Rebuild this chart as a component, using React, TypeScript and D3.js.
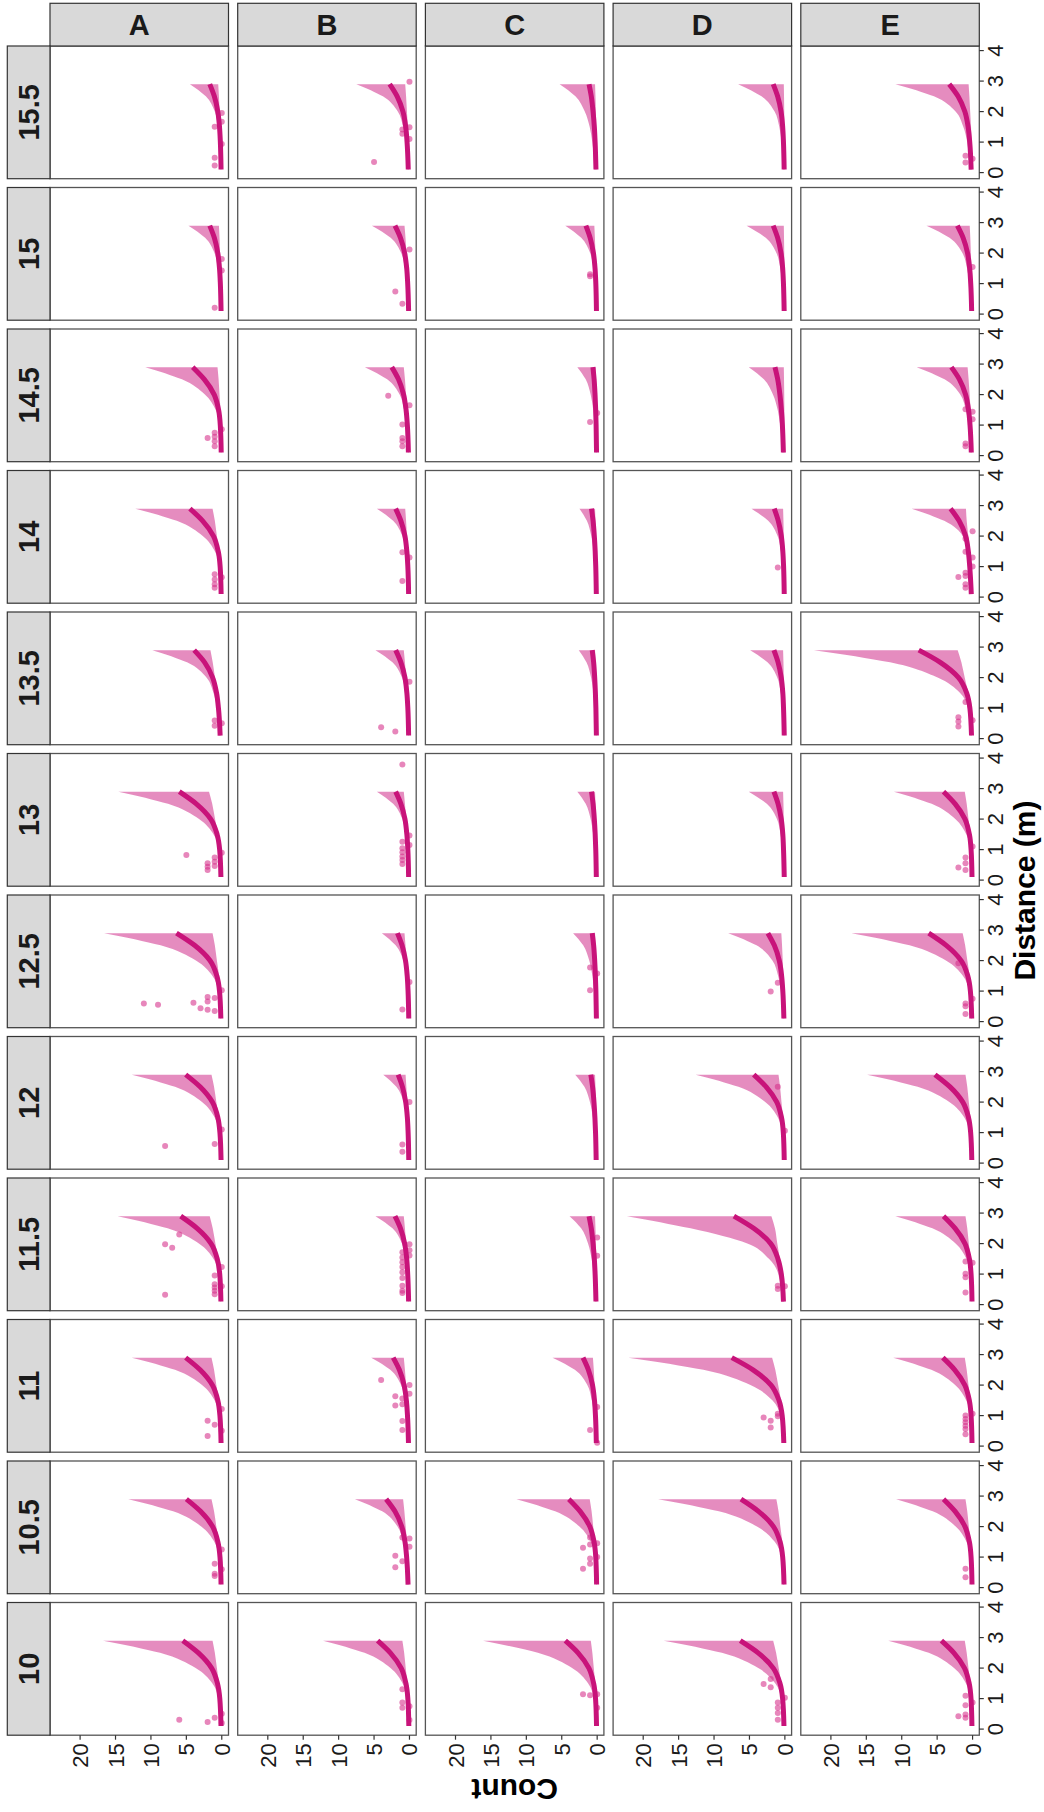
import React from "react";
import * as d3 from "d3";

// ---------- categories & ticks ----------
const letters = ["A", "B", "C", "D", "E"];
const sizes = ["10", "10.5", "11", "11.5", "12", "12.5", "13", "13.5", "14", "14.5", "15", "15.5"];
const knots = [0.1, 1.0, 1.5, 2.0, 2.5, 2.9];
const distTicks = [0, 1, 2, 3, 4];
const countTicks = [0, 5, 10, 15, 20];

// ---------- fitted curve / ribbon values at the knots, per size (10 .. 15.5) ----------
const fitA = [
  [0.11, 0.28, 0.61, 1.43, 3.3, 5.5], [0.1, 0.25, 0.55, 1.3, 3.0, 5.0], [0.1, 0.26, 0.56, 1.33, 3.06, 5.1],
  [0.12, 0.29, 0.64, 1.51, 3.48, 5.8], [0.1, 0.26, 0.56, 1.33, 3.06, 5.1], [0.13, 0.32, 0.7, 1.66, 3.84, 6.4],
  [0.12, 0.3, 0.66, 1.56, 3.6, 6.0], [0.23, 0.47, 0.74, 1.29, 2.42, 3.9], [0.09, 0.23, 0.5, 1.17, 2.7, 4.5],
  [0.08, 0.21, 0.45, 1.07, 2.46, 4.1], [0.1, 0.2, 0.32, 0.56, 1.05, 1.7], [0.1, 0.2, 0.32, 0.56, 1.05, 1.7],
];
const hiA = [
  [0.25, 0.5, 1.34, 3.69, 8.71, 16.75], [0.2, 0.4, 1.06, 2.9, 6.86, 13.2], [0.19, 0.38, 1.02, 2.79, 6.6, 12.7],
  [0.22, 0.44, 1.18, 3.23, 7.64, 14.7], [0.19, 0.38, 1.02, 2.79, 6.6, 12.7], [0.25, 0.5, 1.33, 3.65, 8.63, 16.6],
  [0.22, 0.44, 1.17, 3.21, 7.59, 14.6], [0.39, 0.69, 1.18, 2.16, 4.9, 9.8], [0.18, 0.37, 0.98, 2.68, 6.34, 12.2],
  [0.16, 0.32, 0.86, 2.38, 5.62, 10.8], [0.19, 0.33, 0.56, 1.03, 2.35, 4.7], [0.18, 0.32, 0.54, 0.99, 2.25, 4.5],
];
const loA = [
  [0.05, 0.22, 0.39, 0.69, 0.98, 1.3], [0.06, 0.25, 0.44, 0.77, 1.09, 1.45], [0.06, 0.25, 0.44, 0.77, 1.09, 1.45],
  [0.07, 0.29, 0.51, 0.9, 1.28, 1.7], [0.06, 0.25, 0.44, 0.77, 1.09, 1.45], [0.05, 0.22, 0.39, 0.69, 0.98, 1.3],
  [0.07, 0.31, 0.54, 0.95, 1.35, 1.8], [0.16, 0.4, 0.64, 0.96, 1.28, 1.6], [0.05, 0.22, 0.39, 0.69, 0.98, 1.3],
  [0.02, 0.1, 0.18, 0.32, 0.45, 0.6], [0.04, 0.1, 0.16, 0.24, 0.32, 0.4], [0.05, 0.13, 0.2, 0.3, 0.4, 0.5],
];

const fitB = [
  [0.09, 0.23, 0.5, 1.17, 2.7, 4.5], [0.2, 0.4, 0.63, 1.09, 2.05, 3.3], [0.14, 0.28, 0.44, 0.76, 1.43, 2.3],
  [0.12, 0.25, 0.39, 0.68, 1.27, 2.05], [0.1, 0.19, 0.3, 0.53, 0.99, 1.6], [0.1, 0.2, 0.32, 0.56, 1.05, 1.7],
  [0.12, 0.23, 0.37, 0.64, 1.21, 1.95], [0.12, 0.23, 0.37, 0.64, 1.21, 1.95], [0.12, 0.23, 0.37, 0.64, 1.21, 1.95],
  [0.15, 0.3, 0.48, 0.83, 1.55, 2.5], [0.12, 0.25, 0.39, 0.68, 1.27, 2.05], [0.17, 0.34, 0.53, 0.92, 1.74, 2.8],
];
const hiB = [
  [0.18, 0.37, 0.98, 2.68, 6.34, 12.2], [0.31, 0.54, 0.92, 1.69, 3.85, 7.7], [0.22, 0.38, 0.65, 1.19, 2.7, 5.4],
  [0.19, 0.34, 0.58, 1.06, 2.4, 4.8], [0.15, 0.26, 0.44, 0.81, 1.85, 3.7], [0.16, 0.27, 0.47, 0.86, 1.95, 3.9],
  [0.18, 0.32, 0.55, 1.01, 2.3, 4.6], [0.19, 0.34, 0.58, 1.06, 2.4, 4.8], [0.18, 0.32, 0.55, 1.01, 2.3, 4.6],
  [0.25, 0.44, 0.76, 1.39, 3.15, 6.3], [0.21, 0.37, 0.64, 1.17, 2.65, 5.3], [0.3, 0.53, 0.9, 1.65, 3.75, 7.5],
];
const loB = [
  [0.04, 0.17, 0.3, 0.53, 0.75, 1.0], [0.09, 0.23, 0.36, 0.54, 0.72, 0.9], [0.08, 0.2, 0.32, 0.48, 0.64, 0.8],
  [0.08, 0.2, 0.32, 0.48, 0.64, 0.8], [0.06, 0.14, 0.22, 0.33, 0.44, 0.55], [0.07, 0.18, 0.28, 0.42, 0.56, 0.7],
  [0.08, 0.2, 0.32, 0.48, 0.64, 0.8], [0.08, 0.2, 0.32, 0.48, 0.64, 0.8], [0.06, 0.15, 0.24, 0.36, 0.48, 0.6],
  [0.08, 0.2, 0.32, 0.48, 0.64, 0.8], [0.07, 0.18, 0.28, 0.42, 0.56, 0.7], [0.06, 0.15, 0.24, 0.36, 0.48, 0.6],
];

const fitC = [
  [0.09, 0.23, 0.5, 1.17, 2.7, 4.5], [0.08, 0.2, 0.44, 1.04, 2.4, 4.0], [0.12, 0.24, 0.38, 0.66, 1.24, 2.0],
  [0.17, 0.29, 0.4, 0.58, 0.83, 1.15], [0.14, 0.23, 0.32, 0.45, 0.65, 0.9], [0.11, 0.18, 0.25, 0.35, 0.5, 0.7],
  [0.12, 0.2, 0.28, 0.4, 0.58, 0.8], [0.11, 0.18, 0.25, 0.35, 0.5, 0.7], [0.12, 0.2, 0.28, 0.4, 0.58, 0.8],
  [0.09, 0.15, 0.21, 0.3, 0.43, 0.6], [0.1, 0.19, 0.3, 0.53, 0.99, 1.6], [0.17, 0.29, 0.4, 0.58, 0.83, 1.15],
];
const hiC = [
  [0.24, 0.48, 1.29, 3.54, 8.37, 16.1], [0.17, 0.34, 0.91, 2.51, 5.93, 11.4], [0.25, 0.44, 0.76, 1.39, 3.15, 6.3],
  [0.31, 0.51, 0.78, 1.29, 2.26, 3.9], [0.25, 0.4, 0.62, 1.02, 1.8, 3.1], [0.27, 0.44, 0.68, 1.12, 1.97, 3.4],
  [0.22, 0.36, 0.56, 0.92, 1.62, 2.8], [0.21, 0.34, 0.52, 0.86, 1.51, 2.6], [0.2, 0.33, 0.5, 0.83, 1.45, 2.5],
  [0.22, 0.36, 0.56, 0.92, 1.62, 2.8], [0.18, 0.32, 0.54, 0.99, 2.25, 4.5], [0.42, 0.69, 1.06, 1.75, 3.07, 5.3],
];
const loC = [
  [0.04, 0.15, 0.27, 0.48, 0.68, 0.9], [0.04, 0.18, 0.32, 0.56, 0.79, 1.05], [0.06, 0.15, 0.24, 0.36, 0.48, 0.6],
  [0.06, 0.1, 0.14, 0.18, 0.24, 0.3], [0.06, 0.1, 0.14, 0.18, 0.24, 0.3], [0.06, 0.1, 0.14, 0.18, 0.24, 0.3],
  [0.06, 0.1, 0.14, 0.18, 0.24, 0.3], [0.06, 0.1, 0.14, 0.18, 0.24, 0.3], [0.06, 0.1, 0.14, 0.18, 0.24, 0.3],
  [0.04, 0.07, 0.09, 0.12, 0.16, 0.2], [0.04, 0.1, 0.16, 0.24, 0.32, 0.4], [0.06, 0.1, 0.14, 0.18, 0.24, 0.3],
];

const fitD = [
  [0.13, 0.32, 0.69, 1.64, 3.78, 6.3], [0.12, 0.31, 0.68, 1.61, 3.72, 6.2], [0.15, 0.38, 0.83, 1.95, 4.5, 7.5],
  [0.2, 0.5, 0.98, 2.0, 4.4, 7.2], [0.09, 0.22, 0.48, 1.14, 2.64, 4.4], [0.14, 0.29, 0.46, 0.79, 1.49, 2.4],
  [0.09, 0.19, 0.29, 0.51, 0.96, 1.55], [0.09, 0.19, 0.29, 0.51, 0.96, 1.55], [0.09, 0.18, 0.29, 0.5, 0.93, 1.5],
  [0.21, 0.35, 0.49, 0.7, 1.01, 1.4], [0.1, 0.2, 0.31, 0.54, 1.02, 1.65], [0.1, 0.2, 0.31, 0.54, 1.02, 1.65],
];
const hiD = [
  [0.26, 0.51, 1.37, 3.76, 8.89, 17.1], [0.27, 0.54, 1.43, 3.94, 9.31, 17.9], [0.33, 0.66, 1.77, 4.86, 11.49, 22.1],
  [0.4, 0.93, 2.25, 5.3, 13.3, 22.3], [0.19, 0.38, 1.01, 2.77, 6.55, 12.6], [0.32, 0.56, 0.96, 1.76, 4.0, 8.0],
  [0.2, 0.36, 0.61, 1.12, 2.55, 5.1], [0.2, 0.34, 0.59, 1.08, 2.45, 4.9], [0.19, 0.33, 0.56, 1.03, 2.35, 4.7],
  [0.41, 0.66, 1.02, 1.68, 2.96, 5.1], [0.22, 0.38, 0.65, 1.19, 2.7, 5.4], [0.26, 0.46, 0.79, 1.45, 3.3, 6.6],
];
const loD = [
  [0.07, 0.28, 0.5, 0.87, 1.24, 1.65], [0.05, 0.2, 0.36, 0.64, 0.9, 1.2], [0.07, 0.31, 0.54, 0.95, 1.35, 1.8],
  [0.1, 0.4, 0.7, 1.07, 1.4, 1.9], [0.04, 0.15, 0.27, 0.48, 0.68, 0.9], [0.05, 0.13, 0.2, 0.3, 0.4, 0.5],
  [0.03, 0.06, 0.1, 0.15, 0.2, 0.25], [0.03, 0.06, 0.1, 0.15, 0.2, 0.25], [0.03, 0.06, 0.1, 0.15, 0.2, 0.25],
  [0.03, 0.05, 0.07, 0.09, 0.12, 0.15], [0.02, 0.04, 0.06, 0.09, 0.12, 0.15], [0.02, 0.04, 0.06, 0.09, 0.12, 0.15],
];

const fitE = [
  [0.09, 0.22, 0.48, 1.14, 2.64, 4.4], [0.08, 0.21, 0.45, 1.07, 2.46, 4.1], [0.08, 0.21, 0.46, 1.09, 2.52, 4.2],
  [0.08, 0.21, 0.45, 1.07, 2.46, 4.1], [0.11, 0.27, 0.58, 1.38, 3.18, 5.3], [0.12, 0.31, 0.68, 1.61, 3.72, 6.2],
  [0.08, 0.21, 0.45, 1.07, 2.46, 4.1], [0.15, 0.38, 0.84, 1.98, 4.56, 7.6], [0.18, 0.4, 0.6, 0.98, 1.9, 3.1],
  [0.18, 0.36, 0.57, 0.99, 1.86, 3.0], [0.13, 0.26, 0.41, 0.71, 1.33, 2.15], [0.2, 0.4, 0.63, 1.09, 2.05, 3.3],
];
const hiE = [
  [0.18, 0.36, 0.95, 2.62, 6.19, 11.9], [0.16, 0.32, 0.86, 2.38, 5.62, 10.8], [0.17, 0.34, 0.9, 2.46, 5.82, 11.2],
  [0.16, 0.33, 0.87, 2.4, 5.67, 10.9], [0.22, 0.45, 1.19, 3.28, 7.75, 14.9], [0.26, 0.51, 1.37, 3.76, 8.89, 17.1],
  [0.17, 0.33, 0.89, 2.44, 5.77, 11.1], [0.34, 0.67, 1.79, 4.93, 11.65, 22.4], [0.3, 0.55, 0.8, 1.4, 4.0, 8.6],
  [0.32, 0.55, 0.95, 1.74, 3.95, 7.9], [0.26, 0.46, 0.78, 1.43, 3.25, 6.5], [0.44, 0.76, 1.31, 2.4, 5.45, 10.9],
];
const loE = [
  [0.04, 0.19, 0.33, 0.58, 0.83, 1.1], [0.04, 0.17, 0.3, 0.53, 0.75, 1.0], [0.04, 0.19, 0.33, 0.58, 0.83, 1.1],
  [0.04, 0.17, 0.3, 0.53, 0.75, 1.0], [0.04, 0.17, 0.3, 0.53, 0.75, 1.0], [0.06, 0.24, 0.42, 0.74, 1.05, 1.4],
  [0.04, 0.19, 0.33, 0.58, 0.83, 1.1], [0.08, 0.36, 0.63, 1.11, 1.58, 2.1], [0.1, 0.25, 0.4, 0.6, 0.83, 0.93],
  [0.07, 0.18, 0.28, 0.42, 0.56, 0.7], [0.04, 0.1, 0.16, 0.24, 0.32, 0.4], [0.06, 0.14, 0.22, 0.34, 0.45, 0.56],
];

// ---------- observed points [distance, count], per size (10 .. 15.5) ----------
const ptsA = [
  [[0.31, 6], [0.37, 1], [0.23, 2], [0.2, 0], [0.5, 0]],
  [[0.78, 1], [0.45, 1], [0.38, 1], [1.25, 0], [0.6, 0]],
  [[0.83, 2], [0.7, 1], [0.33, 2], [1.22, 0], [0.5, 0]],
  [[0.32, 8], [1.98, 8], [1.86, 7], [2.3, 6], [0.95, 1], [0.67, 1], [0.56, 1], [0.45, 1], [0.34, 1], [1.23, 0], [0.6, 0]],
  [[0.56, 8], [0.63, 1], [1.1, 0]],
  [[0.59, 11], [0.55, 9], [0.62, 4], [0.44, 3], [0.81, 2], [0.66, 2], [0.39, 2], [0.77, 1], [0.35, 1], [1.03, 0]],
  [[0.82, 5], [0.74, 1], [0.6, 1], [0.46, 1], [0.55, 2], [0.44, 2], [0.33, 2], [0.9, 0]],
  [[0.59, 1], [0.42, 1], [0.5, 0]],
  [[0.75, 1], [0.58, 1], [0.42, 1], [0.31, 1], [0.65, 0]],
  [[0.58, 2], [0.75, 1], [0.62, 1], [0.47, 1], [0.31, 1], [0.86, 0]],
  [[0.21, 1], [1.81, 0], [1.43, 0]],
  [[1.95, 0], [1.67, 0], [1.5, 1], [0.94, 0], [0.49, 1], [0.23, 1]],
];
const ptsB = [
  [[1.31, 1], [0.87, 1], [0.7, 1], [0.75, 0], [0.3, 0]],
  [[1.64, 1], [1.61, 0], [1.04, 2], [0.86, 1], [0.67, 2], [1.34, 0]],
  [[2.17, 4], [1.63, 2], [1.33, 2], [1.56, 1], [1.37, 1], [0.82, 1], [0.53, 1], [2.0, 0], [1.72, 0]],
  [[1.72, 1], [1.54, 1], [1.39, 1], [1.23, 1], [1.06, 1], [0.87, 1], [0.62, 1], [0.45, 1], [0.38, 1], [1.98, 0], [1.78, 0], [1.61, 0]],
  [[2.0, 0], [0.61, 1], [0.37, 1]],
  [[0.4, 1], [1.3, 0]],
  [[3.79, 1], [1.26, 1], [1.04, 1], [0.91, 1], [0.77, 1], [0.66, 1], [0.53, 1], [1.15, 0], [1.46, 0]],
  [[0.37, 4], [0.23, 2], [1.86, 0]],
  [[1.47, 1], [0.53, 1], [1.3, 0]],
  [[1.96, 3], [1.65, 0], [1.02, 1], [0.58, 1], [0.47, 1], [0.31, 1]],
  [[2.12, 0], [0.74, 2], [0.34, 1]],
  [[2.98, 0], [1.41, 1], [1.27, 1], [1.49, 0], [1.1, 0], [0.35, 5]],
];
const ptsC = [
  [[1.14, 2], [1.11, 1], [1.14, 0], [0.7, 0]],
  [[1.64, 1], [1.31, 2], [1.41, 1], [1.45, 0], [0.95, 1], [0.78, 1], [0.62, 2], [1.0, 0]],
  [[0.53, 1], [1.28, 0], [0.11, 0]],
  [[2.2, 0], [1.6, 0]],
  [],
  [[1.77, 1], [1.03, 1], [1.58, 0]],
  [],
  [],
  [],
  [[1.1, 1], [1.4, 0]],
  [[1.31, 1], [1.24, 1]],
  [],
];
const ptsD = [
  [[1.48, 3], [1.64, 2], [1.37, 2], [0.87, 1], [0.7, 1], [0.53, 1], [0.31, 1], [1.03, 0]],
  [],
  [[0.94, 3], [0.83, 2], [0.61, 2], [1.06, 1], [0.98, 1]],
  [[0.62, 1], [0.51, 1], [0.6, 0]],
  [[2.5, 1], [1.06, 0]],
  [[1.27, 1], [0.99, 2]],
  [],
  [],
  [[0.97, 1]],
  [],
  [],
  [],
];
const ptsE = [
  [[1.09, 1], [0.78, 1], [0.42, 2], [0.48, 1], [0.37, 1], [0.87, 0]],
  [[0.62, 1], [0.34, 1]],
  [[1.0, 1], [0.89, 1], [0.78, 1], [0.67, 1], [0.56, 1], [0.39, 1], [1.06, 0]],
  [[1.41, 1], [1.01, 1], [0.9, 1], [0.4, 1], [1.37, 0]],
  [],
  [[1.91, 2], [0.59, 1], [0.5, 1], [0.25, 1], [0.75, 0]],
  [[0.74, 1], [0.55, 1], [0.33, 1], [0.41, 2], [1.1, 0]],
  [[1.2, 1], [0.7, 2], [0.56, 2], [0.4, 2], [0.6, 0]],
  [[2.16, 0], [1.91, 1], [1.49, 1], [1.3, 0], [1.0, 0], [0.8, 1], [0.69, 1], [0.66, 2], [0.42, 1], [0.31, 1]],
  [[1.52, 1], [1.44, 0], [1.19, 0], [0.4, 1], [0.31, 1]],
  [[1.54, 0]],
  [[0.55, 1], [0.33, 1], [0.45, 0]],
];

const fitTable: Record<string, number[][]> = { A: fitA, B: fitB, C: fitC, D: fitD, E: fitE };
const hiTable: Record<string, number[][]> = { A: hiA, B: hiB, C: hiC, D: hiD, E: hiE };
const loTable: Record<string, number[][]> = { A: loA, B: loB, C: loC, D: loD, E: loE };
const ptsTable: Record<string, number[][][]> = { A: ptsA, B: ptsB, C: ptsC, D: ptsD, E: ptsE };

// ---------- layout ----------
const W = 1044;
const H = 1812;
const left0 = 50;
const pitchX = 187.7;
const panelW = 178.5;
const top0 = 46;
const pitchY = 141.5;
const panelH = 132.7;
const stripSize = 42.7;
const FONT = "'Liberation Sans', Arial, Helvetica, sans-serif";

const RIBBON = "#CC1A7F";
const LINE = "#C8137A";
const POINT = "#D62F8A";

const order = [5, 4, 3, 2, 1, 0]; // from d = 2.9 (top) down to 0.1

export default function App() {
  const panels: React.ReactNode[] = [];
  const nRows = sizes.length;

  letters.forEach((L, ci) => {
    const left = left0 + ci * pitchX;
    const right = left + panelW;
    sizes.forEach((s, si) => {
      const ri = nRows - 1 - si;
      const top = top0 + ri * pitchY;
      const bottom = top + panelH;
      const xS = d3.scaleLinear().domain([-0.95, 24.25]).range([right, left]);
      const yS = d3.scaleLinear().domain([-0.2, 4.15]).range([bottom, top]);
      const fit = fitTable[L][si];
      const hi = hiTable[L][si];
      const lo = loTable[L][si];
      const pts = ptsTable[L][si];
      const area = d3
        .area<number>()
        .y((i) => yS(knots[i]))
        .x0((i) => xS(lo[i]))
        .x1((i) => xS(hi[i]))
        .curve(d3.curveMonotoneY);
      const line = d3
        .line<number>()
        .x((i) => xS(fit[i]))
        .y((i) => yS(knots[i]))
        .curve(d3.curveMonotoneY);
      const clipId = `clip-${L}-${si}`;
      panels.push(
        <g key={`${L}-${s}`}>
          <defs>
            <clipPath id={clipId}>
              <rect x={left} y={top} width={panelW} height={panelH} />
            </clipPath>
          </defs>
          <rect x={left} y={top} width={panelW} height={panelH} fill="#ffffff" />
          <g clipPath={`url(#${clipId})`}>
            <path d={area(order) || ""} fill={RIBBON} fillOpacity={0.5} stroke="none" />
            {pts.map((p, k) => (
              <circle key={k} cx={xS(p[1])} cy={yS(p[0])} r={3} fill={POINT} fillOpacity={0.58} />
            ))}
            <path d={line(order) || ""} fill="none" stroke={LINE} strokeWidth={5} strokeLinecap="butt" />
          </g>
          <rect x={left} y={top} width={panelW} height={panelH} fill="none" stroke="#555555" strokeWidth={1.3} />
        </g>
      );
    });
  });

  // top strips (letters)
  const topStrips = letters.map((L, ci) => {
    const left = left0 + ci * pitchX;
    return (
      <g key={`ts-${L}`}>
        <rect x={left} y={top0 - stripSize} width={panelW} height={stripSize} fill="#D9D9D9" stroke="#333333" strokeWidth={1.2} />
        <text x={left + panelW / 2} y={top0 - stripSize / 2 + 10.5} textAnchor="middle" fontFamily={FONT} fontWeight="bold" fontSize={29} fill="#1a1a1a">
          {L}
        </text>
      </g>
    );
  });

  // left strips (sizes)
  const leftStrips = sizes.map((s, si) => {
    const ri = sizes.length - 1 - si;
    const top = top0 + ri * pitchY;
    const cy = top + panelH / 2;
    const x0 = left0 - stripSize;
    return (
      <g key={`ls-${s}`}>
        <rect x={x0} y={top} width={stripSize} height={panelH} fill="#D9D9D9" stroke="#333333" strokeWidth={1.2} />
        <text transform={`translate(${x0 + stripSize / 2},${cy}) rotate(-90)`} y={10.5} textAnchor="middle" fontFamily={FONT} fontWeight="bold" fontSize={29} fill="#1a1a1a">
          {s}
        </text>
      </g>
    );
  });

  // distance axis on the right of the last column
  const lastRight = left0 + (letters.length - 1) * pitchX + panelW;
  const distAxes = sizes.map((s, si) => {
    const ri = sizes.length - 1 - si;
    const top = top0 + ri * pitchY;
    const yS = d3.scaleLinear().domain([-0.2, 4.15]).range([top + panelH, top]);
    return (
      <g key={`da-${s}`}>
        {distTicks.map((t) => (
          <g key={t}>
            <line x1={lastRight} x2={lastRight + 4.5} y1={yS(t)} y2={yS(t)} stroke="#333333" strokeWidth={1.2} />
            <text transform={`translate(${lastRight + 8},${yS(t)}) rotate(-90)`} y={16} textAnchor="middle" fontFamily={FONT} fontSize={22} fill="#1a1a1a">
              {t}
            </text>
          </g>
        ))}
      </g>
    );
  });

  // count axis below the bottom row
  const bottomRowBottom = top0 + (sizes.length - 1) * pitchY + panelH;
  const countAxes = letters.map((L, ci) => {
    const left = left0 + ci * pitchX;
    const xS = d3.scaleLinear().domain([-0.95, 24.25]).range([left + panelW, left]);
    return (
      <g key={`ca-${L}`}>
        {countTicks.map((t) => (
          <g key={t}>
            <line x1={xS(t)} x2={xS(t)} y1={bottomRowBottom} y2={bottomRowBottom + 4.5} stroke="#333333" strokeWidth={1.2} />
            <text transform={`translate(${xS(t)},${bottomRowBottom + 8}) rotate(-90)`} y={8} textAnchor="end" fontFamily={FONT} fontSize={22} fill="#1a1a1a">
              {t}
            </text>
          </g>
        ))}
      </g>
    );
  });

  const gridCx = (left0 + lastRight) / 2;
  const gridCy = (top0 + bottomRowBottom) / 2;

  return (
    <svg width={W} height={H} viewBox={`0 0 ${W} ${H}`} style={{ position: "absolute", left: 0, top: 0, background: "#ffffff" }}>
      <rect x={0} y={0} width={W} height={H} fill="#ffffff" />
      {panels}
      {topStrips}
      {leftStrips}
      {distAxes}
      {countAxes}
      <text transform={`translate(${gridCx},${bottomRowBottom + 44}) rotate(180)`} textAnchor="middle" fontFamily={FONT} fontWeight="bold" fontSize={30} fill="#000000">
        Count
      </text>
      <text transform={`translate(${lastRight + 34},${gridCy}) rotate(-90)`} y={21.5} textAnchor="middle" fontFamily={FONT} fontWeight="bold" fontSize={30} fill="#000000">
        Distance (m)
      </text>
    </svg>
  );
}
